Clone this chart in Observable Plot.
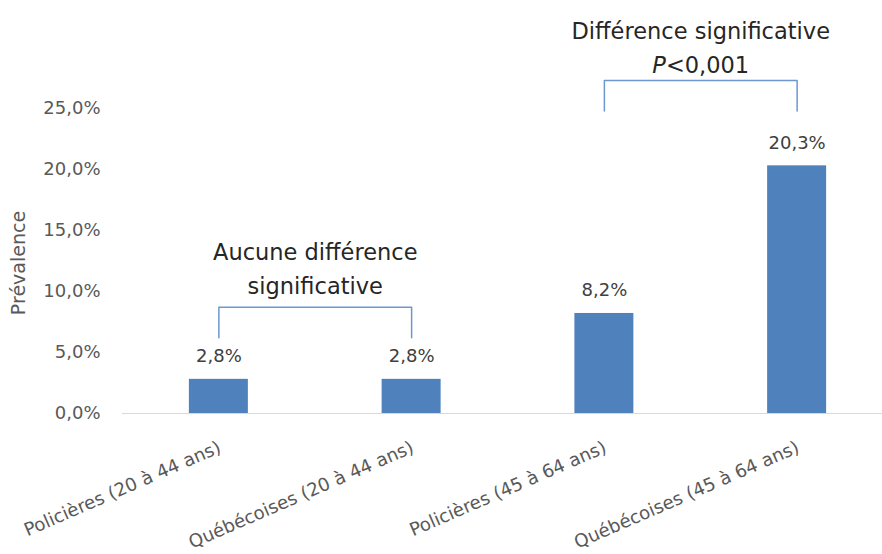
<!DOCTYPE html>
<html lang="fr">
<head>
<meta charset="utf-8">
<script src="https://cdn.jsdelivr.net/npm/d3@7"></script>
<script src="https://cdn.jsdelivr.net/npm/@observablehq/plot@0.6"></script>
<style>
  html, body { margin: 0; padding: 0; background: #ffffff; }
  #chart svg { display: block; font-family: "DejaVu Sans", sans-serif; }
</style>
</head>
<body>
<div id="chart"></div>
<script>
// Prévalence par groupe
const categories = [
  "Policières (20 à 44 ans)",
  "Québécoises (20 à 44 ans)",
  "Policières (45 à 64 ans)",
  "Québécoises (45 à 64 ans)"
];
const prevalence = [2.8, 2.8, 8.2, 20.3];
const yTicks = [0, 5, 10, 15, 20, 25];
const yLabel = "Prévalence";

// Comparaisons (crochets) entre groupes, en unités de prévalence
const bracketFrom = [0, 2];
const bracketTo = [1, 3];
const bracketTop = [8.7, 27.3];
const bracketFoot = [6.2, 24.8];
const bracketNote = ["Aucune différence\nsignificative", "Différence significative\nP<0,001"];
const bracketNoteY = [12.05, 30.2];

const fmtPct = d => d.toFixed(1).replace(".", ",") + "%";

const rows = categories.map((c, i) => ({i, category: c, value: prevalence[i]}));
const brackets = bracketFrom.map((f, k) => ({
  id: k, from: f, to: bracketTo[k], top: bracketTop[k], foot: bracketFoot[k],
  note: bracketNote[k], noteY: bracketNoteY[k]
}));
const bracketPath = brackets.flatMap(b => [
  {id: b.id, x: b.from, y: b.foot},
  {id: b.id, x: b.from, y: b.top},
  {id: b.id, x: b.to, y: b.top},
  {id: b.id, x: b.to, y: b.foot}
]);

const BAR_HALF = 0.153;   // demi-largeur des barres, en pas de catégorie
const blue = "#4f81bd";

const chart = Plot.plot({
  width: 882,
  height: 554,
  marginLeft: 122,
  marginRight: 0,
  marginTop: 108,
  marginBottom: 141,
  style: {fontFamily: "DejaVu Sans, sans-serif", background: "#ffffff"},
  x: {type: "linear", domain: [-0.5, 3.5], range: [122, 893], axis: null},
  y: {domain: [0, 25], range: [413, 108], axis: null},
  marks: [
    Plot.axisY({
      ticks: yTicks,
      tickFormat: fmtPct,
      tickSize: 0,
      tickPadding: 22,
      fontSize: 18,
      fill: "#595959",
      label: null
    }),
    Plot.text([yLabel], {
      frameAnchor: "left",
      textAnchor: "middle",
      dx: -104,
      dy: 2,
      rotate: -90,
      fontSize: 19,
      fill: "#595959"
    }),
    Plot.rectY(rows, {
      x1: d => d.i - BAR_HALF,
      x2: d => d.i + BAR_HALF,
      y: "value",
      fill: blue
    }),
    Plot.ruleY([0], {stroke: "#d9d9d9", strokeWidth: 1.2}),
    Plot.text(rows, {
      x: "i",
      y: "value",
      text: d => fmtPct(d.value),
      dy: -23,
      fontSize: 18,
      fill: "#404040"
    }),
    Plot.text(rows, {
      x: "i",
      frameAnchor: "bottom",
      text: "category",
      rotate: -23.5,
      textAnchor: "end",
      lineAnchor: "middle",
      dx: 1,
      dy: 33,
      fontSize: 18.2,
      fill: "#595959"
    }),
    Plot.line(bracketPath, {
      x: "x",
      y: "y",
      z: "id",
      stroke: "#6e97cf",
      strokeWidth: 1.5,
      curve: "linear"
    }),
    Plot.text(brackets, {
      x: d => (d.from + d.to) / 2,
      y: "noteY",
      text: "note",
      lineHeight: 1.5,
      fontSize: 22.5,
      fill: "#262626"
    })
  ]
});

// « P » en italique dans la note de signification
d3.select(chart).selectAll("tspan, text")
  .filter(function () { return this.childElementCount === 0 && this.textContent === "P<0,001"; })
  .each(function () {
    const el = d3.select(this);
    el.text(null);
    el.append("tspan").attr("font-style", "italic").text("P");
    el.append("tspan").text("<0,001");
  });

document.getElementById("chart").appendChild(chart);
</script>
</body>
</html>
